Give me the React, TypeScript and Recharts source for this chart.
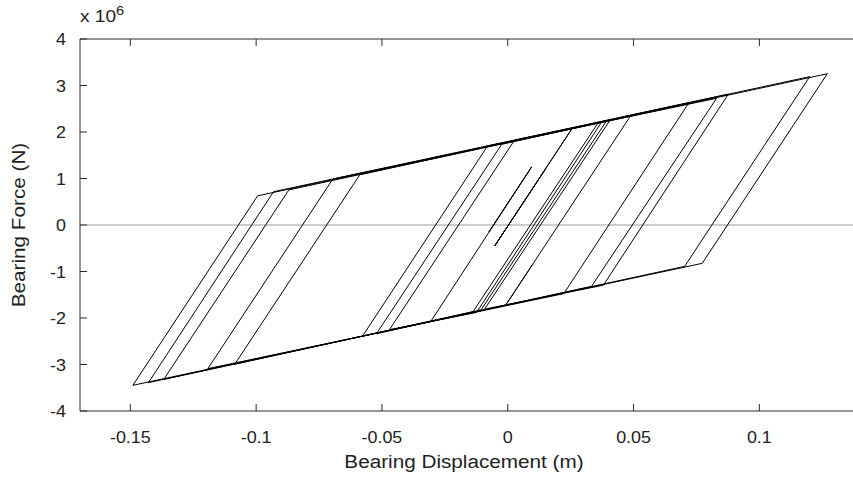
import { LineChart, Line, XAxis, YAxis, ReferenceLine } from 'recharts';

// Reversal points of the bearing hysteresis, in drawing order (m)
const dispValues = [
  0.0095, -0.0075, 0.0095, -0.0306, -0.0577, -0.0080, 0.0256, -0.0052, 0.0151, -0.0052,
  0.0256, 0.0359, -0.0138, -0.0522, -0.0024, 0.0373, -0.0124, -0.0470, 0.0027, 0.0392,
  -0.0106, -0.1085, -0.0588, 0.0720, 0.0223, -0.1192, -0.0695, 0.0830, 0.0333, -0.1367,
  -0.0870, 0.1270, 0.0773, -0.1490, -0.0994, 0.1200, 0.0703, -0.1428, -0.0931, 0.0877,
  0.0380, -0.0092, 0.0406, 0.0488, -0.0009, 0.0100,
];
// Bearing force at each reversal point (x 10^6 N)
const forceValues = [
  1.25, -0.15, 1.25, -2.075, -2.389, 1.70, 2.077, -0.45, 1.21, -0.45,
  2.077, 2.196, -1.865, -2.34, 1.735, 2.213, -1.88, -2.25, 1.825, 2.235,
  -1.825, -2.995, 1.08, 2.63, -1.475, -3.09, 0.99, 2.725, -1.32, -3.32,
  0.755, 3.253, -0.824, -3.448, 0.627, 3.19, -0.89, -3.39, 0.715, 2.815,
  -1.295, -1.81, 2.251, 2.346, -1.73, -0.84,
];

const xTicks = [-0.15, -0.1, -0.05, 0, 0.05, 0.1];
const xTickLabels = ['-0.15', '-0.1', '-0.05', '0', '0.05', '0.1'];
const yTicks = [-4, -3, -2, -1, 0, 1, 2, 3, 4];

const data = dispValues.map((d, i) => ({ disp: d, force: forceValues[i] }));

const FONT = '"Liberation Sans", Arial, Helvetica, sans-serif';
const AXIS = '#2b2b2b';
const TXT = '#222';

const BottomTick = ({ x, y, payload }: any) => (
  <g>
    <line x1={x} x2={x} y1={y} y2={y - 7} stroke={AXIS} />
    <text transform={`translate(${x},${y + 32}) scale(1.12,1)`} textAnchor="middle"
      fontSize={16} fontFamily={FONT} fill={TXT}>
      {xTickLabels[xTicks.indexOf(payload.value)] ?? payload.value}
    </text>
  </g>
);

const TopTick = ({ x, y }: any) => (
  <line x1={x} x2={x} y1={y} y2={y + 7} stroke={AXIS} />
);

const LeftTick = ({ x, y, payload }: any) => (
  <g>
    <line x1={x} x2={x + 7} y1={y} y2={y} stroke={AXIS} />
    <text transform={`translate(${x - 14},${y + 6}) scale(1.12,1)`} textAnchor="end"
      fontSize={16} fontFamily={FONT} fill={TXT}>
      {payload.value}
    </text>
  </g>
);

const RightTick = ({ x, y }: any) => (
  <line x1={x} x2={x - 7} y1={y} y2={y} stroke={AXIS} />
);

export default function App() {
  return (
    <div style={{ position: 'absolute', left: 0, top: 0, width: 853, height: 484, overflow: 'hidden', background: '#fff', fontFamily: FONT }}>
      <LineChart width={880} height={484} data={data} margin={{ top: 0, right: 0, bottom: 0, left: 0 }}>
        <XAxis dataKey="disp" type="number" domain={[-0.17, 0.14]} ticks={xTicks} height={73}
          allowDataOverflow axisLine={{ stroke: AXIS }} tickLine={false} tickSize={0} tickMargin={0}
          tick={<BottomTick />} interval={0} />
        <XAxis xAxisId="top" dataKey="disp" orientation="top" type="number" domain={[-0.17, 0.14]}
          ticks={xTicks} height={39} allowDataOverflow axisLine={{ stroke: AXIS }} tickLine={false}
          tickSize={0} tickMargin={0} tick={<TopTick />} interval={0} />
        <YAxis type="number" domain={[-4, 4]} ticks={yTicks} width={80} allowDataOverflow
          axisLine={{ stroke: AXIS }} tickLine={false} tickSize={0} tickMargin={0}
          tick={<LeftTick />} interval={0} />
        <YAxis yAxisId="right" orientation="right" type="number" domain={[-4, 4]} ticks={yTicks}
          width={20} allowDataOverflow axisLine={{ stroke: AXIS }} tickLine={false} tickSize={0}
          tickMargin={0} tick={<RightTick />} interval={0} />
        <ReferenceLine y={0} stroke="#9a9a9a" strokeWidth={1} />
        {/* invisible copy so the box axes get their scales */}
        <Line xAxisId="top" yAxisId="right" type="linear" dataKey="force" stroke="none" dot={false}
          activeDot={false} isAnimationActive={false} />
        <Line type="linear" dataKey="force" stroke="#000" strokeWidth={1} dot={false}
          isAnimationActive={false} />
      </LineChart>
      <div style={{ position: 'absolute', left: 80, top: 3, fontSize: 17, color: TXT, transform: 'scaleX(1.12)', transformOrigin: 'left top', whiteSpace: 'nowrap' }}>
        x 10<sup style={{ fontSize: 13, verticalAlign: '7px' }}>6</sup>
      </div>
      <div style={{ position: 'absolute', left: 464, top: 452, fontSize: 18, color: TXT, transform: 'translateX(-50%) scaleX(1.15)', whiteSpace: 'nowrap' }}>
        Bearing Displacement (m)
      </div>
      <div style={{ position: 'absolute', left: 19, top: 225, fontSize: 18, color: TXT, transform: 'translate(-50%,-50%) rotate(-90deg) scaleX(1.15)', whiteSpace: 'nowrap' }}>
        Bearing Force (N)
      </div>
    </div>
  );
}
